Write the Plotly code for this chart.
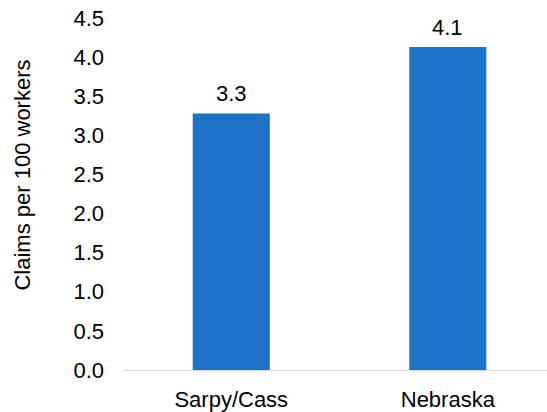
import plotly.graph_objects as go

categories = ["Sarpy/Cass", "Nebraska"]
values = [3.28, 4.13]
labels = ["3.3", "4.1"]
y_ticks = [0, 0.5, 1, 1.5, 2, 2.5, 3, 3.5, 4, 4.5]
y_title = "Claims per 100 workers"

font = "Liberation Sans, Arial, sans-serif"
FS = 22

fig = go.Figure(go.Bar(
    x=categories, y=values,
    marker=dict(color="#1B72C6", line=dict(width=0)),
))

annotations = [dict(text=y_title, textangle=-90, xref="paper", yref="paper",
                    x=-0.236, y=0.555, xanchor="center", yanchor="middle",
                    showarrow=False, font=dict(size=FS, color="#000000"))]
for c, v, t in zip(categories, values, labels):
    annotations.append(dict(x=c, y=v, text=t, xref="x", yref="y",
                            xanchor="center", yanchor="bottom", yshift=5,
                            showarrow=False, font=dict(size=FS, color="#000000")))

fig.update_layout(
    width=547, height=412,
    margin=dict(l=123, r=0, t=18, b=39),
    paper_bgcolor="white", plot_bgcolor="white",
    bargap=0.644, showlegend=False,
    font=dict(family=font, size=FS, color="#000000"),
    xaxis=dict(range=[-0.5, 1.458], showline=True, linecolor="#D9D9D9", linewidth=1,
               showgrid=False, ticks="", tickfont=dict(size=FS), ticklabelstandoff=10),
    yaxis=dict(range=[0, 4.5], tickvals=y_ticks, tickformat=".1f", showgrid=False,
               zeroline=False, showline=False, ticks="", tickfont=dict(size=FS),
               ticklabelstandoff=18),
    annotations=annotations,
)

fig.write_html("out.html", config={"displayModeBar": False},
               post_script="document.body.style.margin='0';document.body.style.overflow='hidden';")
